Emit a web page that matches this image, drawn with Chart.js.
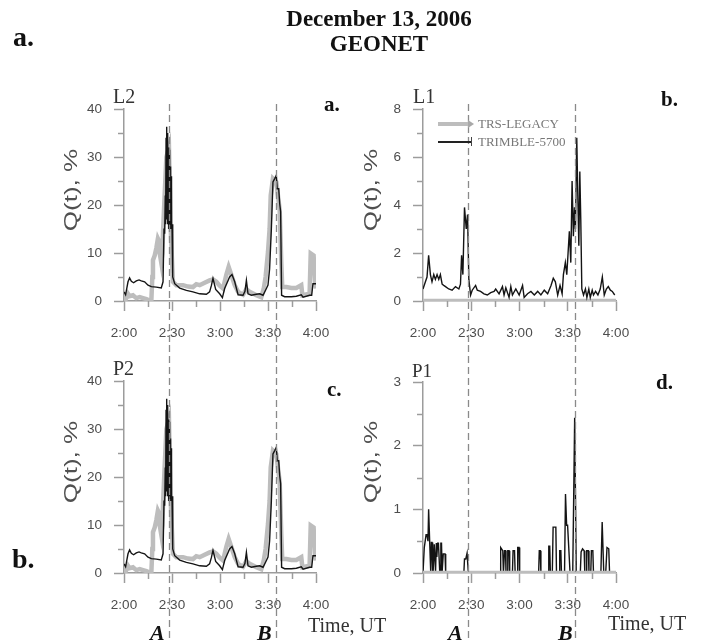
<!DOCTYPE html>
<html><head><meta charset="utf-8">
<script src="https://cdn.jsdelivr.net/npm/chart.js@4.4.1/dist/chart.umd.min.js"></script>
<style>
html,body{margin:0;padding:0;background:#fff;}
#wrap{position:relative;width:702px;height:642px;overflow:hidden;background:#fff;}
canvas{position:absolute;}
.t{position:absolute;white-space:nowrap;line-height:1;}
.serif{font-family:"Liberation Serif","Times New Roman",serif;}
.sans{font-family:"Liberation Sans",Arial,sans-serif;}
.b{font-weight:bold;}
.ylab{position:absolute;width:120px;text-align:center;font-family:"Liberation Sans",Arial,sans-serif;font-size:18px;line-height:18px;height:18px;color:#505050;transform:rotate(-90deg) scaleX(1.45);white-space:nowrap;}
</style></head><body>
<div id="wrap">
<canvas id="ca" width="351" height="345" style="left:0;top:0"></canvas>
<canvas id="cb" width="351" height="345" style="left:351px;top:0"></canvas>
<canvas id="cc" width="351" height="297" style="left:0;top:345px"></canvas>
<canvas id="cd" width="351" height="297" style="left:351px;top:345px"></canvas>

<div class="t serif b" style="left:0;width:758px;text-align:center;top:7px;font-size:23px;color:#111">December 13, 2006</div>
<div class="t serif b" style="left:0;width:758px;text-align:center;top:32px;font-size:23px;color:#111">GEONET</div>
<div class="t serif b" style="left:13px;top:23px;font-size:28px;color:#111">a.</div>
<div class="t serif b" style="left:12px;top:545px;font-size:28px;color:#111">b.</div>

<div class="t serif" style="left:113px;top:86px;font-size:20px;color:#333">L2</div>
<div class="t serif" style="left:413px;top:86px;font-size:20px;color:#333">L1</div>
<div class="t serif" style="left:113px;top:358px;font-size:20px;color:#333">P2</div>
<div class="t serif" style="left:412px;top:361px;font-size:19px;color:#333">P1</div>

<div class="t serif b" style="left:324px;top:94px;font-size:21px;color:#111">a.</div>
<div class="t serif b" style="left:661px;top:89px;font-size:21px;color:#111">b.</div>
<div class="t serif b" style="left:327px;top:379px;font-size:21px;color:#111">c.</div>
<div class="t serif b" style="left:656px;top:372px;font-size:21px;color:#111">d.</div>

<div class="ylab" style="left:11px;top:181px">Q(t), %</div>
<div class="ylab" style="left:311px;top:181px">Q(t), %</div>
<div class="ylab" style="left:11px;top:453px">Q(t), %</div>
<div class="ylab" style="left:311px;top:453px">Q(t), %</div>

<div class="t serif" style="left:308px;top:615px;font-size:20px;color:#333">Time, UT</div>
<div class="t serif" style="left:608px;top:613px;font-size:20px;color:#333">Time, UT</div>
<div class="t serif b" style="left:150px;top:622px;font-size:22px;font-style:italic;color:#111">A</div>
<div class="t serif b" style="left:257px;top:622px;font-size:22px;font-style:italic;color:#111">B</div>
<div class="t serif b" style="left:448px;top:622px;font-size:22px;font-style:italic;color:#111">A</div>
<div class="t serif b" style="left:558px;top:622px;font-size:22px;font-style:italic;color:#111">B</div>

<div style="position:absolute;left:438px;top:122px;width:33px;height:4px;background:#bdbdbd"></div>
<div style="position:absolute;left:468px;top:120px;width:0;height:0;border-top:4px solid transparent;border-bottom:4px solid transparent;border-left:6px solid #a8a8a8"></div>
<div class="t serif" style="left:478px;top:117px;font-size:13px;color:#777">TRS-LEGACY</div>
<div style="position:absolute;left:438px;top:141px;width:34px;height:1.5px;background:#222"></div>
<div style="position:absolute;left:471px;top:137px;width:1px;height:9px;background:#444"></div>
<div class="t serif" style="left:478px;top:135px;font-size:13px;color:#777">TRIMBLE-5700</div>
</div>

<script>
// ---- DATA (time in minutes after 2:00 UT, Q in %) ----
const xTickLabels = ["2:00", "2:30", "3:00", "3:30", "4:00"];
const eventTimes = [28, 94.8];          // dashed lines A and B
const eventNames = ["A", "B"];

// L2 (panel a)
const l2TrimbleTime = [0,1.0,2.5,3.5,4.6,6.0,7.7,9.4,10.8,12.9,15.0,17.1,20.2,23.3,24.4,25.0,25.4,25.8,26.0,26.3,26.5,26.7,26.85,27.0,27.15,27.3,27.45,27.6,27.75,27.9,28.05,28.2,28.35,28.5,28.65,28.8,28.95,29.1,29.25,29.4,29.55,29.7,29.85,30.0,30.3,30.6,31.7,34.8,39.0,43.1,47.3,51.5,53.5,54.6,55.6,57.3,59.8,61.5,62.9,66.0,67.5,69.2,71.3,74.4,75.6,76.5,77.5,79.6,82.7,84.8,86.9,89.0,90.0,91.0,92.1,93.1,94.2,95.2,95.8,96.7,97.3,97.9,98.5,100.4,104.6,107.7,110.8,111.9,116.0,117.3,118.1,120];
const l2TrimbleQ    = [1.9,1.3,4.0,4.8,4.1,3.8,4.2,4.4,4.2,4.0,3.3,3.0,2.9,2.7,4.0,15.1,14,22,16,34,20,36.3,17,35,16,34,18,32,16,32,15,31.5,17,30.5,16,28,15,26,16,26,15,25,15,16,6,5.0,3.6,2.7,2.2,1.9,1.5,1.4,1.9,3.2,4.7,2.4,1.5,0.7,2.6,5.0,5.5,4.0,1.3,1.2,2.0,4.3,1.5,1.2,1.4,1.5,1.2,2.6,3.3,6.7,15,24.8,25.5,26.2,23.4,23.4,20.3,18.6,1.2,0.9,0.9,1.0,1.3,0.8,1.2,1.2,3.6,3.6];
const l2LegacyTime  = [0,1.0,2.5,3.5,5.6,7.7,9.8,11.9,14.0,16.0,17.1,17.7,18.1,19.2,20.2,21.2,21.9,22.3,23.3,24.0,24.4,25.4,26.5,28.1,29.2,29.8,30.6,32.7,36.9,40.0,43.1,45.2,47.3,50.4,53.5,55.6,57.7,59.8,61.9,64.0,65.4,67.1,69.2,71.3,74.4,76.5,78.5,81.0,82.7,85.8,87.3,88.5,90.0,91.0,91.7,93.1,95.2,97.3,98.3,98.9,101.5,104.6,107.7,110.8,111.5,116.0,116.7,118.5,119.4,120];
const l2LegacyQ     = [1.5,0.3,1.5,1.0,1.2,0.6,0.8,0.6,0.4,0.1,0.1,5,8.5,9.5,11,13,12.5,10,8,10,14.4,22,30,32,15,10,4,3.3,3.3,3.0,2.9,3.5,3.3,3.8,4.3,4.5,4.0,3.2,2.6,5.5,7.1,5.4,3.3,1.9,1.3,2.5,1.9,1.5,1.2,0.8,2.5,5,10.2,15,22,25.5,24.8,19,8,2.9,2.9,2.7,2.7,3.3,1.2,1.5,9.9,9.5,4,2.6];

// L1 (panel b)
const l1TrimbleTime = [0,1.5,2.5,3.5,4.6,5.6,6.7,7.7,8.75,9.8,10.8,11.9,12.9,14.0,16.0,18.1,20.2,22.3,23.3,24.0,24.8,25.8,26.9,27.7,28.5,29.6,30.6,32.7,33.75,35.8,37.9,40.0,42.1,44.2,45.2,47.3,49.4,50.4,51.5,53.5,54.6,55.6,57.7,59.8,61.9,62.9,65.0,67.1,69.2,71.3,73.3,75.4,77.5,79.6,81.0,82.3,83.75,85.2,86.5,87.3,88.5,89.4,90.2,91.0,91.9,92.7,93.5,94.2,94.8,95.6,96.25,96.9,97.5,98.1,98.75,99.8,101.0,101.9,103.1,104.0,105.2,106.0,107.3,108.75,110.2,111.5,112.7,114.0,115.2,116.5,117.7,119.2];
const l1TrimbleQ    = [0.5,0.8,1.0,1.9,1.1,0.8,1.1,0.9,1.1,0.9,1.1,0.7,0.65,0.6,0.5,0.45,0.6,0.5,0.7,1.9,1.1,3.9,3.0,3.6,0.9,0.25,0.45,0.65,0.45,0.4,0.3,0.25,0.35,0.4,0.5,0.3,0.6,0.25,0.55,0.15,0.6,0.25,0.5,0.25,0.65,0.15,0.3,0.4,0.25,0.4,0.25,0.45,0.3,0.65,0.95,0.8,0.25,0.65,0.3,1.1,1.6,1.1,2.0,2.9,1.6,5.0,2.7,3.9,3.0,6.8,4.4,2.3,5.4,3.4,0.5,0.25,0.5,0.15,0.5,0.15,0.45,0.25,0.4,0.25,0.5,1.0,0.25,0.5,0.6,0.45,0.4,0.25];
const l1LegacyTime  = [0,120];
const l1LegacyQ     = [0,0];

// P2 (panel c)
const p2TrimbleTime = [0,1.0,2.5,3.5,4.6,6.0,7.7,9.4,10.8,12.9,15.0,17.1,20.2,23.3,24.4,25.0,25.4,25.8,26.0,26.3,26.5,26.7,26.85,27.0,27.15,27.3,27.45,27.6,27.75,27.9,28.05,28.2,28.35,28.5,28.65,28.8,28.95,29.1,29.25,29.4,29.55,29.7,29.85,30.0,30.3,30.6,31.7,34.8,39.0,43.1,47.3,51.5,53.5,54.6,55.6,57.3,59.8,61.5,62.9,66.0,67.5,69.2,71.3,74.4,75.6,76.5,77.5,79.6,82.7,84.8,86.9,89.0,90.0,91.0,92.1,93.1,94.2,95.2,95.8,96.7,97.3,97.9,98.5,100.4,104.6,107.7,110.8,111.9,116.0,117.3,118.1,120];
const p2TrimbleQ    = [1.9,1.3,4.0,4.8,4.1,3.8,4.2,4.4,4.2,4.0,3.3,3.0,2.9,2.7,4.0,15.1,14,22,16,34,20,36.3,17,35,16,34,18,32,16,32,15,31.5,17,30.5,16,28,15,26,16,26,15,25,15,16,6,5.0,3.6,2.7,2.2,1.9,1.5,1.4,1.9,3.2,4.7,2.4,1.5,0.7,2.6,5.0,5.5,4.0,1.3,1.2,2.0,4.3,1.5,1.2,1.4,1.5,1.2,2.6,3.3,6.7,15,24.8,25.5,26.2,23.4,23.4,20.3,18.6,1.2,0.9,0.9,1.0,1.3,0.8,1.2,1.2,3.6,3.6];
const p2LegacyTime  = [0,1.0,2.5,3.5,5.6,7.7,9.8,11.9,14.0,16.0,17.1,17.7,18.1,19.2,20.2,21.2,21.9,22.3,23.3,24.0,24.4,25.4,26.5,28.1,29.2,29.8,30.6,32.7,36.9,40.0,43.1,45.2,47.3,50.4,53.5,55.6,57.7,59.8,61.9,64.0,65.4,67.1,69.2,71.3,74.4,76.5,78.5,81.0,82.7,85.8,87.3,88.5,90.0,91.0,91.7,93.1,95.2,97.3,98.3,98.9,101.5,104.6,107.7,110.8,111.5,116.0,116.7,118.5,119.4,120];
const p2LegacyQ     = [1.5,0.3,1.5,1.0,1.2,0.6,0.8,0.6,0.4,0.1,0.1,5,8.5,9.5,11,13,12.5,10,8,10,14.4,22,30,32,15,10,4,3.3,3.3,3.0,2.9,3.5,3.3,3.8,4.3,4.5,4.0,3.2,2.6,5.5,7.1,5.4,3.3,1.9,1.3,2.5,1.9,1.5,1.2,0.8,2.5,5,10.2,15,22,25.5,24.8,19,8,2.9,2.9,2.7,2.7,3.3,1.2,1.5,9.9,9.5,4,2.6];

// P1 (panel d)
const p1TrimbleTime = [0,0.8,1.9,2.5,3.1,3.5,4.2,4.8,5.2,5.6,6.0,6.3,7.0,7.4,7.8,8.3,8.6,9.1,9.6,10.4,10.8,11.1,11.5,11.9,12.3,12.6,13.7,14.1,25.4,25.8,26.6,27.4,27.8,28.2,47.9,48.3,49.6,50.0,50.3,50.7,51.3,51.6,52.4,52.7,53.5,53.9,55.6,56.0,56.9,57.3,58.5,58.9,59.7,60.1,71.9,72.3,72.9,73.3,77.8,78.2,78.8,79.2,80.4,80.9,82.6,83.0,84.6,85.0,85.7,86.1,88.0,88.6,89.3,89.9,91.4,91.9,93.1,94.3,95.3,97.8,98.3,99.2,100.2,100.6,101.4,101.8,102.8,103.2,104.3,104.7,105.6,106.0,110.6,111.4,112.4,113.6,114.4,115.5,116.0];
const p1TrimbleQ    = [0,0.4,0.6,0.6,0.5,1.0,0.45,0.02,0.48,0.48,0.02,0.02,0.45,0.45,0.02,0.47,0.25,0.47,0.47,0.02,0.02,0.47,0.47,0.02,0.02,0.3,0.3,0,0,0.22,0.22,0.31,0.31,0,0,0.4,0.35,0,0,0.35,0.35,0,0,0.35,0.35,0,0,0.35,0.35,0,0,0.4,0.4,0,0,0.35,0.35,0,0,0.42,0.42,0,0,0.72,0.72,0,0,0.35,0.35,0,0,1.24,0.75,0.75,0.02,0,0,2.44,0,0,0.33,0.38,0.35,0,0,0.35,0.35,0,0,0.35,0.35,0,0,0.8,0,0,0.4,0.38,0];
const p1LegacyTime  = [0,120];
const p1LegacyQ     = [0,0];

// ---- CHART HELPERS ----
const AXIS = '#9c9c9c';
const TICKTXT = '#4d4d4d';
const BLACK = '#141414';
const GRAY = '#bdbdbd';

function pts(t, q) { return t.map((v, i) => ({x: v, y: q[i]})); }
function timeLabel(v) {
  const idx = v / 30;
  return Number.isInteger(idx) ? xTickLabels[idx] : '';
}

const eventPlugin = {
  id: 'events',
  afterDatasetsDraw(chart, args, opts) {
    const ctx = chart.ctx, xs = chart.scales.x;
    ctx.save();
    ctx.strokeStyle = '#8a8a8a';
    ctx.lineWidth = 1.3;
    ctx.setLineDash([7, 4]);
    eventTimes.forEach(t => {
      const px = Math.round(xs.getPixelForValue(t)) + 0.5;
      ctx.beginPath();
      ctx.moveTo(px, opts.top);
      ctx.lineTo(px, chart.height);
      ctx.stroke();
    });
    ctx.restore();
  },
  afterDraw(chart, args, opts) {
    const ctx = chart.ctx, xs = chart.scales.x, ys = chart.scales.y;
    ctx.save();
    ctx.strokeStyle = AXIS;
    ctx.lineWidth = 1.5;
    xs.ticks.forEach(tk => {
      if (tk.value % 30 !== 0) {
        const px = Math.round(xs.getPixelForValue(tk.value)) + 0.5;
        ctx.beginPath(); ctx.moveTo(px, xs.top); ctx.lineTo(px, xs.top + 6); ctx.stroke();
      }
    });
    ys.ticks.forEach(tk => {
      if (!opts.yMajor(tk.value)) {
        const py = Math.round(ys.getPixelForValue(tk.value)) + 0.5;
        ctx.beginPath(); ctx.moveTo(ys.right, py); ctx.lineTo(ys.right - 6, py); ctx.stroke();
      }
    });
    ctx.restore();
  }
};

function makeChart(id, cfg) {
  const yMajor = v => Math.abs(v / cfg.yLabelStep - Math.round(v / cfg.yLabelStep)) < 1e-6;
  const datasets = [
    {data: pts(cfg.tt, cfg.tq), borderColor: BLACK, borderWidth: 1.4},
    {data: pts(cfg.lt, cfg.lq), borderColor: GRAY, borderWidth: 4.5}
  ];
  if (cfg.grayOnTop) datasets.reverse();
  return new Chart(document.getElementById(id), {
    type: 'line',
    data: {datasets: datasets.map(d => Object.assign(d, {pointRadius: 0, tension: 0, fill: false, borderJoinStyle: 'miter'}))},
    plugins: [eventPlugin],
    options: {
      responsive: false, animation: false, devicePixelRatio: 1,
      layout: {padding: cfg.pad},
      plugins: {legend: {display: false}, tooltip: {enabled: false}, events: {top: cfg.dashTop, yMajor: yMajor}},
      scales: {
        x: {
          type: 'linear', min: 0, max: 120,
          afterFit: s => { s.height = cfg.xh; },
          afterBuildTicks: s => { s.ticks = [0,15,30,45,60,75,90,105,120].map(v => ({value: v})); },
          border: {color: AXIS, width: 1.5},
          grid: {drawOnChartArea: false, tickLength: 10, tickWidth: 1.5, tickColor: c => (c.tick && c.tick.value % 30 === 0) ? AXIS : 'rgba(0,0,0,0)'},
          ticks: {color: TICKTXT, font: {family: '"Liberation Sans", Arial, sans-serif', size: 13.5}, padding: 14, maxRotation: 0, autoSkip: false, callback: v => timeLabel(v)}
        },
        y: {
          min: 0, max: cfg.yMax,
          afterFit: s => { s.width = cfg.yw; },
          ticks: {stepSize: cfg.yStep, color: TICKTXT, font: {family: '"Liberation Sans", Arial, sans-serif', size: 13.5}, padding: 12, autoSkip: false,
                  callback: v => yMajor(v) ? String(v) : ''},
          border: {color: AXIS, width: 1.5},
          grid: {drawOnChartArea: false, tickLength: 10, tickWidth: 1.5, tickColor: c => (c.tick && yMajor(c.tick.value)) ? AXIS : 'rgba(0,0,0,0)'}
        }
      }
    }
  });
}

makeChart('ca', {tt: l2TrimbleTime, tq: l2TrimbleQ, lt: l2LegacyTime, lq: l2LegacyQ, yMax: 40, yStep: 5, yLabelStep: 10,
  pad: {left: 0, top: 109, right: 35, bottom: 0}, xh: 44, yw: 124, dashTop: 104});
makeChart('cb', {tt: l1TrimbleTime, tq: l1TrimbleQ, lt: l1LegacyTime, lq: l1LegacyQ, yMax: 8, yStep: 1, yLabelStep: 2,
  pad: {left: 0, top: 109, right: 86, bottom: 0}, xh: 44, yw: 72, dashTop: 104});
makeChart('cc', {tt: p2TrimbleTime, tq: p2TrimbleQ, lt: p2LegacyTime, lq: p2LegacyQ, yMax: 40, yStep: 5, yLabelStep: 10,
  pad: {left: 0, top: 36, right: 35, bottom: 25}, xh: 44, yw: 124, dashTop: 0});
makeChart('cd', {tt: p1TrimbleTime, tq: p1TrimbleQ, lt: p1LegacyTime, lq: p1LegacyQ, yMax: 3, yStep: 0.5, yLabelStep: 1,
  pad: {left: 0, top: 37, right: 86, bottom: 25}, xh: 44, yw: 72, dashTop: 0, grayOnTop: true});
</script>
</body></html>
